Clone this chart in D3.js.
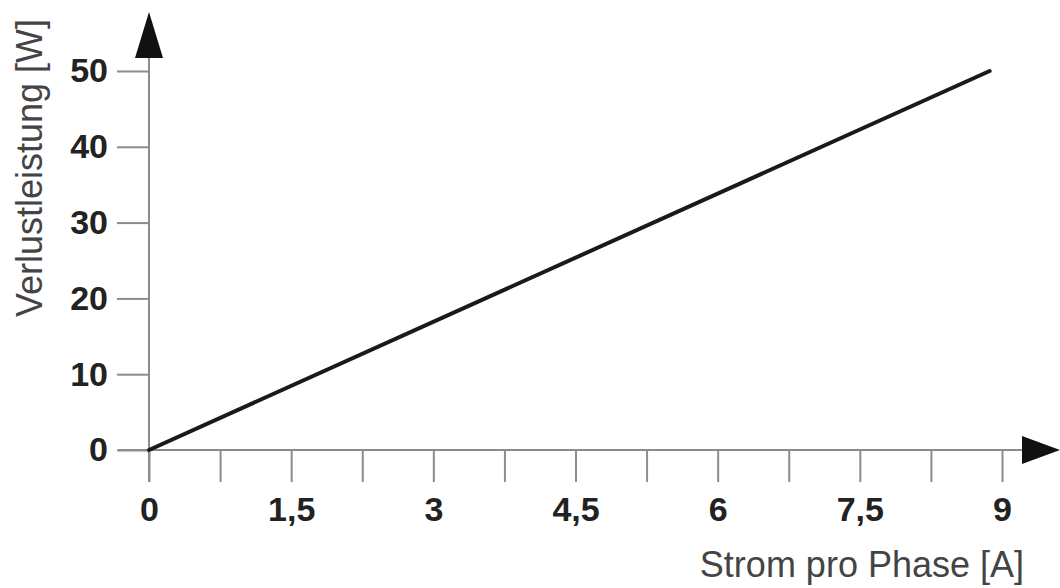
<!DOCTYPE html>
<html lang="de">
<head>
  <meta charset="UTF-8" />
  <title>Verlustleistung</title>
  <script src="https://d3js.org/d3.v7.min.js"></script>
  <style>
    body {
      margin: 0;
      background: #fff;
      font-family: "Liberation Sans", Arial, sans-serif;
    }
    svg {
      display: block;
    }
    .tick text {
      font-size: 34px;
      font-weight: bold;
      fill: #222;
    }
    .title {
      font-size: 36px;
      fill: #444;
    }
  </style>
</head>
<body>
  <svg id="chart" width="1060" height="588"></svg>

  <script>
    // data
    const currentA = [0, 8.87];
    const lossW = [0, 50];
    const xTicks = [0, 0.75, 1.5, 2.25, 3, 3.75, 4.5, 5.25, 6, 6.75, 7.5, 8.25, 9];
    const xLabels = ["0", "", "1,5", "", "3", "", "4,5", "", "6", "", "7,5", "", "9"];
    const yTicks = [0, 10, 20, 30, 40, 50];
    const yLabels = ["0", "10", "20", "30", "40", "50"];

    const axisColor = "#8c8c8c";
    const svg = d3.select("#chart");

    const x = d3.scaleLinear().domain([0, 9]).range([149, 1002]);
    const y = d3.scaleLinear().domain([0, 50]).range([450, 71]);

    // x axis ticks + labels
    const gx = svg.append("g")
      .attr("transform", `translate(0,${y(0)})`)
      .call(d3.axisBottom(x)
        .tickValues(xTicks)
        .tickSize(32)
        .tickFormat((d, i) => xLabels[i]));
    gx.select(".domain").remove();
    gx.selectAll(".tick line").attr("stroke", axisColor).attr("stroke-width", 2);
    gx.selectAll(".tick text").attr("y", 47).attr("dy", "0.71em");

    // y axis ticks + labels
    const gy = svg.append("g")
      .attr("transform", `translate(${x(0)},0)`)
      .call(d3.axisLeft(y)
        .tickValues(yTicks)
        .tickSize(32)
        .tickPadding(9)
        .tickFormat((d, i) => yLabels[i]));
    gy.select(".domain").remove();
    gy.selectAll(".tick line").attr("stroke", axisColor).attr("stroke-width", 2);

    // axis lines
    svg.append("line")
      .attr("x1", 118).attr("x2", 1022)
      .attr("y1", y(0)).attr("y2", y(0))
      .attr("stroke", axisColor).attr("stroke-width", 2);
    svg.append("line")
      .attr("x1", x(0)).attr("x2", x(0))
      .attr("y1", 482).attr("y2", 58)
      .attr("stroke", axisColor).attr("stroke-width", 2);

    // arrow heads
    svg.append("path")
      .attr("d", `M${x(0) - 14},58 L${x(0)},12 L${x(0) + 14},58 Z`)
      .attr("fill", "#111");
    svg.append("path")
      .attr("d", `M1022,${y(0) - 14} L1060,${y(0)} L1022,${y(0) + 14} Z`)
      .attr("fill", "#111");

    // data line
    const line = d3.line()
      .x(d => x(d[0]))
      .y(d => y(d[1]));
    svg.append("path")
      .datum(d3.zip(currentA, lossW))
      .attr("d", line)
      .attr("fill", "none")
      .attr("stroke", "#1a1a1a")
      .attr("stroke-width", 4)
      .attr("stroke-linecap", "round");

    // axis titles
    svg.append("text")
      .attr("class", "title")
      .attr("x", 1024)
      .attr("y", 577)
      .attr("text-anchor", "end")
      .text("Strom pro Phase [A]");

    svg.append("text")
      .attr("class", "title")
      .attr("transform", "translate(42,168) rotate(-90)")
      .attr("text-anchor", "middle")
      .text("Verlustleistung  [W]");
  </script>
</body>
</html>
